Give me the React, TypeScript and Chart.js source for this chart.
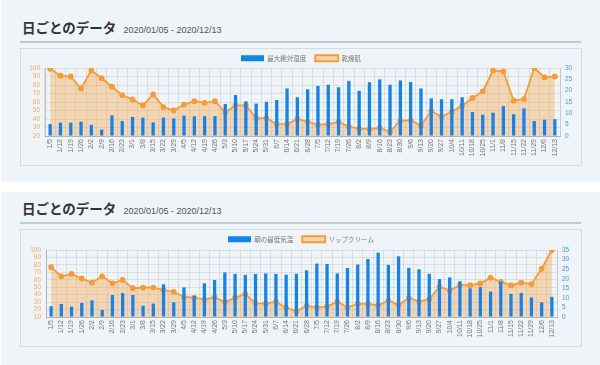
import React, { useEffect, useRef } from "react";
import { Chart, registerables } from "chart.js";
Chart.register(...registerables);

const weeks = [
  "1/5", "1/12", "1/19", "1/26", "2/2", "2/9", "2/16", "2/23", "3/1", "3/8", "3/15", "3/22", "3/29",
  "4/5", "4/12", "4/19", "4/26", "5/3", "5/10", "5/17", "5/24", "5/31", "6/7", "6/14", "6/21", "6/28",
  "7/5", "7/12", "7/19", "7/26", "8/2", "8/9", "8/16", "8/23", "8/30", "9/6", "9/13", "9/20", "9/27",
  "10/4", "10/11", "10/18", "10/25", "11/1", "11/8", "11/15", "11/22", "11/29", "12/6", "12/13",
];

// Chart 1
const humidity = [
  5.3, 5.9, 5.9, 6.3, 4.9, 2.8, 9.1, 6.6, 8.4, 8.1, 6.0, 8.1, 7.8,
  9.0, 8.7, 8.8, 8.8, 14.1, 18.1, 15.3, 14.3, 15.1, 15.9, 21.0, 17.1, 20.6,
  22.1, 22.6, 21.5, 24.3, 19.9, 23.7, 25.0, 22.6, 24.5, 23.8, 21.0, 16.6, 16.2,
  16.2, 17.1, 10.6, 9.4, 10.3, 13.2, 9.6, 12.2, 6.6, 7.2, 7.4,
];
const drySkin = [
  99, 91, 90, 76, 97, 88, 78, 68, 63, 56, 69, 54, 50,
  57, 61, 59, 61, 48, 56, 56, 41, 41, 34, 34, 40, 37,
  33, 34, 36.5, 31, 28.6, 28.2, 29.4, 25, 38, 38.4, 32.2, 49.4, 42.7,
  48.6, 55.7, 64.7, 72.6, 97, 96, 61.6, 63.5, 100, 89, 90,
];

// Chart 2
const minTemp = [
  5.6, 6.8, 5.4, 7.3, 8.7, 3.7, 11.5, 12.5, 11.5, 5.9, 7.0, 17.1, 7.7,
  15.5, 11.0, 17.6, 19.3, 23.3, 22.5, 22.0, 22.5, 22.8, 22.5, 22.1, 22.6, 24.4,
  27.9, 27.7, 22.8, 25.6, 27.4, 30.3, 33.6, 27.2, 31.7, 25.7, 24.9, 22.6, 19.8,
  20.7, 18.7, 15.0, 15.6, 13.3, 18.4, 12.1, 12.6, 10.2, 7.7, 10.5,
];
const lipCream = [
  76.8, 64.7, 67.8, 61.6, 56.2, 64.7, 55.3, 59.8, 48.6, 49.5, 49.5, 46.3, 43.6,
  37, 36, 33.8, 36.5, 30.2, 35.6, 40.9, 28.4, 27.9, 30.6, 22.1, 18.1, 24.8,
  23.0, 23.9, 30.6, 23.0, 27.5, 27.5, 25.7, 32.0, 26.2, 35.7, 30.7, 33.9, 50.6,
  45.5, 52.7, 52.7, 55.0, 62.7, 57.3, 52.4, 56.3, 54.2, 74.8, 100,
];

// axis ranges: [min, max, step]
const leftRange1 = [20, 100, 10];
const rightRange1 = [0, 30, 5];
const leftRange2 = [10, 100, 10];
const rightRange2 = [0, 35, 5];

const title = "日ごとのデータ";
const dateRange = "2020/01/05 - 2020/12/13";

const BLUE = "rgb(16,132,245)";
const ORANGE = "rgb(250,155,50)";
const FILL = "rgba(250,155,50,0.35)";
const NUM_FONT = "'Liberation Sans', 'Noto Sans CJK JP', sans-serif";
const CJK_FONT = "'Noto Sans CJK JP', 'Liberation Sans', sans-serif";

type Cfg = {
  barLabel: string;
  lineLabel: string;
  bars: number[];
  line: number[];
  left: number[];
  right: number[];
  leftW: number;
  rightW: number;
  legendH: number;
};

const legendShift = {
  id: "legendShift",
  afterLayout(chart: any) {
    const lg = chart.legend;
    if (lg) {
      lg.top -= 3;
      lg.bottom -= 3;
    }
  },
};

function ChartBox({ cfg, top }: { cfg: Cfg; top: number }) {
  const ref = useRef<HTMLCanvasElement>(null);
  useEffect(() => {
    const chart = new Chart(ref.current as HTMLCanvasElement, {
      type: "bar",
      data: {
        labels: weeks,
        datasets: [
          {
            type: "bar",
            label: cfg.barLabel,
            data: cfg.bars,
            yAxisID: "y1",
            backgroundColor: BLUE,
            borderWidth: 0,
            barPercentage: 0.4,
            categoryPercentage: 0.8,
            order: 0,
          } as any,
          {
            type: "line",
            label: cfg.lineLabel,
            data: cfg.line,
            yAxisID: "y",
            borderColor: ORANGE,
            backgroundColor: FILL,
            borderWidth: 1.8,
            pointRadius: 2,
            pointBackgroundColor: ORANGE,
            pointBorderColor: ORANGE,
            fill: "start",
            tension: 0,
            order: 1,
          } as any,
        ],
      },
      options: {
        animation: false,
        responsive: false,
        layout: { padding: 0 },
        plugins: {
          tooltip: { enabled: false },
          legend: {
            position: "top",
            maxHeight: cfg.legendH,
            labels: {
              boxWidth: 23,
              boxHeight: 6,
              padding: 9,
              color: "#777",
              font: { size: 6.5, family: CJK_FONT },
            },
          },
        },
        scales: {
          x: {
            grid: { color: "rgba(0,0,0,0.08)", drawTicks: false, offset: true },
            border: { color: "rgba(0,0,0,0.2)" },
            ticks: {
              autoSkip: false,
              minRotation: 90,
              maxRotation: 90,
              padding: 3,
              color: "#777",
              font: { size: 7, family: NUM_FONT },
            },
            afterFit(scale: any) {
              scale.height = 29;
            },
          },
          y: {
            position: "left",
            min: cfg.left[0],
            max: cfg.left[1],
            grid: { color: "rgba(0,0,0,0.08)", drawTicks: false },
            border: { color: "rgba(0,0,0,0.2)" },
            ticks: {
              stepSize: cfg.left[2],
              autoSkip: false,
              padding: 5,
              color: "rgba(245,160,60,0.85)",
              font: { size: 6.5, family: NUM_FONT },
            },
            afterFit(scale: any) {
              scale.width = cfg.leftW;
            },
          },
          y1: {
            position: "right",
            min: cfg.right[0],
            max: cfg.right[1],
            grid: { drawOnChartArea: false, drawTicks: false },
            border: { color: "rgba(0,0,0,0.1)" },
            ticks: {
              stepSize: cfg.right[2],
              autoSkip: false,
              padding: 5,
              color: "rgba(40,140,240,0.85)",
              font: { size: 6.5, family: NUM_FONT },
            },
            afterFit(scale: any) {
              scale.width = cfg.rightW;
            },
          },
        },
      },
      plugins: [legendShift],
    });
    return () => chart.destroy();
  }, []);
  return (
    <div
      style={{
        position: "absolute",
        left: 20,
        top,
        width: 560,
        height: 116,
        border: "1px solid #d6dbde",
      }}
    >
      <canvas ref={ref} width={560} height={116} style={{ display: "block" }} />
    </div>
  );
}

function Card({ y0, cardTop, cardH, cfg }: { y0: number; cardTop: number; cardH: number; cfg: Cfg }) {
  return (
    <>
      <div
        style={{
          position: "absolute",
          left: 1,
          top: cardTop,
          width: 599,
          height: cardH,
          background: "#eef4f7",
        }}
      />
      <div
        style={{
          position: "absolute",
          left: 22,
          top: y0 + 21,
          display: "flex",
          alignItems: "baseline",
          whiteSpace: "nowrap",
        }}
      >
        <span
          style={{
            fontFamily: CJK_FONT,
            fontWeight: 700,
            fontSize: 13.5,
            lineHeight: 1,
            color: "#333",
          }}
        >
          {title}
        </span>
        <span
          style={{
            fontFamily: NUM_FONT,
            fontSize: 9,
            lineHeight: 1,
            color: "#555",
            marginLeft: 7,
          }}
        >
          {dateRange}
        </span>
      </div>
      <div
        style={{
          position: "absolute",
          left: 20,
          top: y0 + 41,
          width: 561,
          height: 2,
          background: "#c3c8cc",
        }}
      />
      <ChartBox cfg={cfg} top={y0 + 48} />
    </>
  );
}

const cfg1: Cfg = {
  barLabel: "最大絶対湿度",
  lineLabel: "乾燥肌",
  bars: humidity,
  line: drySkin,
  left: leftRange1,
  right: rightRange1,
  leftW: 24,
  rightW: 21,
  legendH: 19,
};

const cfg2: Cfg = {
  barLabel: "朝の最低気温",
  lineLabel: "リップクリーム",
  bars: minTemp,
  line: lipCream,
  left: leftRange2,
  right: rightRange2,
  leftW: 25,
  rightW: 24,
  legendH: 20,
};

export default function App() {
  return (
    <div
      style={{
        position: "absolute",
        left: 0,
        top: 0,
        width: 600,
        height: 365,
        background: "#ffffff",
        overflow: "hidden",
      }}
    >
      <Card y0={0} cardTop={0} cardH={182} cfg={cfg1} />
      <Card y0={181} cardTop={192} cardH={180} cfg={cfg2} />
    </div>
  );
}
